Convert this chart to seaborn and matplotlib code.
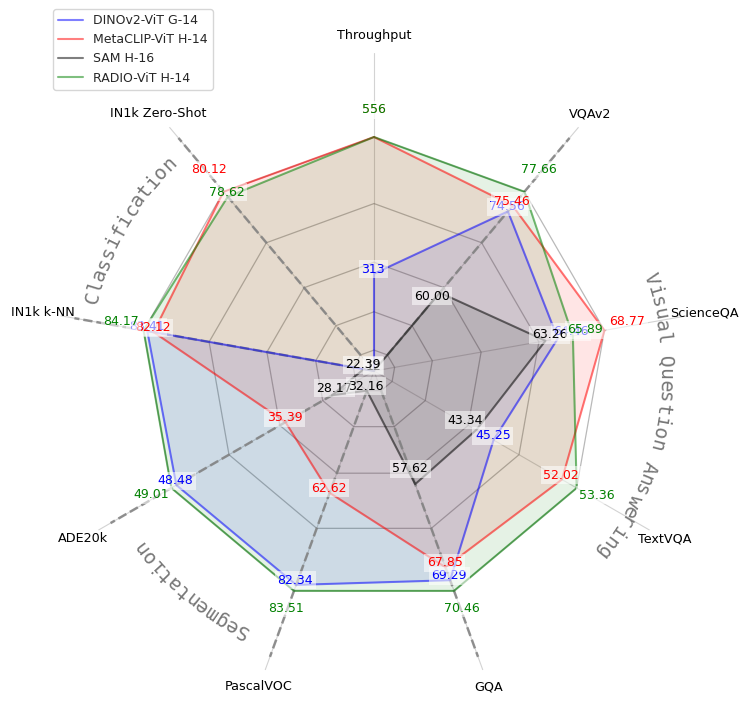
import numpy as np
import pandas as pd
import matplotlib
matplotlib.use("Agg")
import matplotlib.pyplot as plt
from matplotlib.lines import Line2D
import seaborn as sns

# ---------------- data ----------------
metrics = ["Throughput", "VQAv2", "ScienceQA", "TextVQA", "GQA",
           "PascalVOC", "ADE20k", "IN1k k-NN", "IN1k Zero-Shot"]
models = ["DINOv2-ViT G-14", "MetaCLIP-ViT H-14", "SAM H-16", "RADIO-ViT H-14"]
dinov2 = [313, 74.56, 64.46, 45.25, 69.29, 82.34, 48.48, 83.41, np.nan]
metaclip = [556, 75.46, 68.77, 52.02, 67.85, 62.62, 35.39, 82.12, 80.12]
sam = [12, 60.00, 63.26, 43.34, 57.62, 32.16, 28.17, 22.39, np.nan]
radio = [556, 77.66, 65.89, 53.36, 70.46, 83.51, 49.01, 84.17, 78.62]
groups = {
    "Classification": ["IN1k Zero-Shot", "IN1k k-NN"],
    "Segmentation": ["ADE20k", "PascalVOC"],
    "Visual Question Answering": ["GQA", "TextVQA", "ScienceQA", "VQAv2"],
}
colors = ["blue", "red", "black", "green"]

# ---------------- style ----------------
sns.set_theme(style="white")
plt.rcParams["font.family"] = ["DejaVu Sans"]

W, H, DPI = 748, 703, 100
R_PX = 234.0            # pixel radius of the outer polygon
RMAX = 1.36             # radial limit of the polar axes
CX, CY = 374.0, H - 371.0

# per-label pixel shifts (dx, dy up) where the reference moved labels by hand
label_shift = {
    ("RADIO-ViT H-14", "ScienceQA"): (12, 6),
    ("DINOv2-ViT G-14", "ScienceQA"): (13, 6.6),
    ("SAM H-16", "ScienceQA"): (4, 5.8),
    ("SAM H-16", "VQAv2"): (-7.8, -3.4),
    ("SAM H-16", "TextVQA"): (-11, 10),
    ("SAM H-16", "GQA"): (-5, 15.5),
    ("SAM H-16", "ADE20k"): (2.6, 7.3),
}

# ---------------- scaling ----------------
vals = pd.DataFrame([dinov2, metaclip, sam, radio], index=models, columns=metrics)
filled = vals.fillna(0)
lo = 0.6 * filled.min()
hi = filled.max()
t = ((filled - lo) / (hi - lo)).clip(lower=0)
radius = t ** 1.5

deg = 90 - 40 * np.arange(len(metrics))          # clockwise from the top
theta = np.mod(np.deg2rad(deg), 2 * np.pi)
ang = dict(zip(metrics, deg))
theta_of = dict(zip(metrics, theta))

fig = plt.figure(figsize=(W / DPI, H / DPI), dpi=DPI)
rp = RMAX * R_PX
ax = fig.add_axes([(CX - rp) / W, (CY - rp) / H, 2 * rp / W, 2 * rp / H],
                  projection="polar")

# polygon grid
th_closed = np.append(theta, theta[0])
for lvl in np.linspace(0.2, 1.0, 5) ** 1.5:
    ax.plot(th_closed, [lvl] * len(th_closed), color="gray", alpha=0.55,
            linewidth=0.9, zorder=1)

# model polygons
for name, c in zip(models, colors):
    r = radius.loc[name].values
    rc = np.append(r, r[0])
    ax.fill(th_closed, rc, color=c, alpha=0.1, zorder=2)
    sns.lineplot(x=th_closed, y=rc, ax=ax, sort=False, estimator=None,
                 color=c, alpha=0.5, linewidth=1.5, zorder=3)
ax.set_xlabel("")
ax.set_ylabel("")

# group boundary dashed lines
inner = 0.2 ** 1.5
for members in groups.values():
    for m in {members[0], members[-1]}:
        a = np.deg2rad(ang[m])
        ax.plot([a, a], [inner, 1.30], color="gray", linestyle="--",
                linewidth=1.8, alpha=0.85, zorder=2.5)

# curved group titles
step = np.rad2deg(12.0 / 291.0)
r_txt = 291.0 / R_PX
for gname, members in groups.items():
    center = (ang[members[0]] + ang[members[-1]]) / 2.0
    n = len(gname)
    for i, ch in enumerate(gname):
        if ch == " ":
            continue
        a = center + ((n - 1) / 2.0 - i) * step
        ax.text(np.deg2rad(a), r_txt, ch, rotation=a - 90,
                rotation_mode="anchor", ha="center", va="center",
                fontsize=14.3, family="DejaVu Sans Mono", color="#777777",
                zorder=4)

# metric names
for m, a in zip(metrics, theta):
    ax.text(a, 336.0 / R_PX, m, ha="center", va="center", fontsize=9.2,
            color="black", zorder=4, clip_on=False)

# value labels (drawn counter-clockwise from the top, model by model)
label_order = [metrics[0]] + metrics[:0:-1]
for name, c in zip(models, colors):
    for m in label_order:
        a = theta_of[m]
        v = vals.loc[name, m]
        if np.isnan(v):
            continue
        txt = f"{v:.0f}" if m == "Throughput" else f"{v:.2f}"
        if (name, m) in label_shift:
            dx, dy = label_shift[(name, m)]
        elif v == hi[m]:
            dx, dy = 23 * np.cos(a), 23 * np.sin(a) + 4.5
        else:
            dx, dy = -0.8, 4.5
        ax.annotate(txt, xy=(a, radius.loc[name, m]), xytext=(dx, dy),
                    textcoords="offset pixels", ha="center", va="center",
                    fontsize=9, color=c, zorder=6,
                    bbox=dict(boxstyle="square,pad=0.2", facecolor="white",
                              edgecolor="none", alpha=0.55))

# full circle, fixed radial range
ax.set_thetalim(0, 2 * np.pi)
ax.set_ylim(0, RMAX)
ax.set_xticks(theta)
ax.set_xticklabels([])
ax.set_yticks([])
ax.xaxis.grid(True, color="lightgray", linewidth=0.8)
ax.yaxis.grid(False)
ax.spines["polar"].set_visible(False)

handles = [Line2D([0], [0], color=c, alpha=0.5, linewidth=1.5) for c in colors]
fig.legend(handles, models, loc="upper left",
           bbox_to_anchor=(53 / W, 1 - 9 / H), borderaxespad=0,
           fontsize=9, frameon=True, fancybox=True, edgecolor="0.8",
           framealpha=0.8)

fig.savefig("out.png", dpi=DPI)
